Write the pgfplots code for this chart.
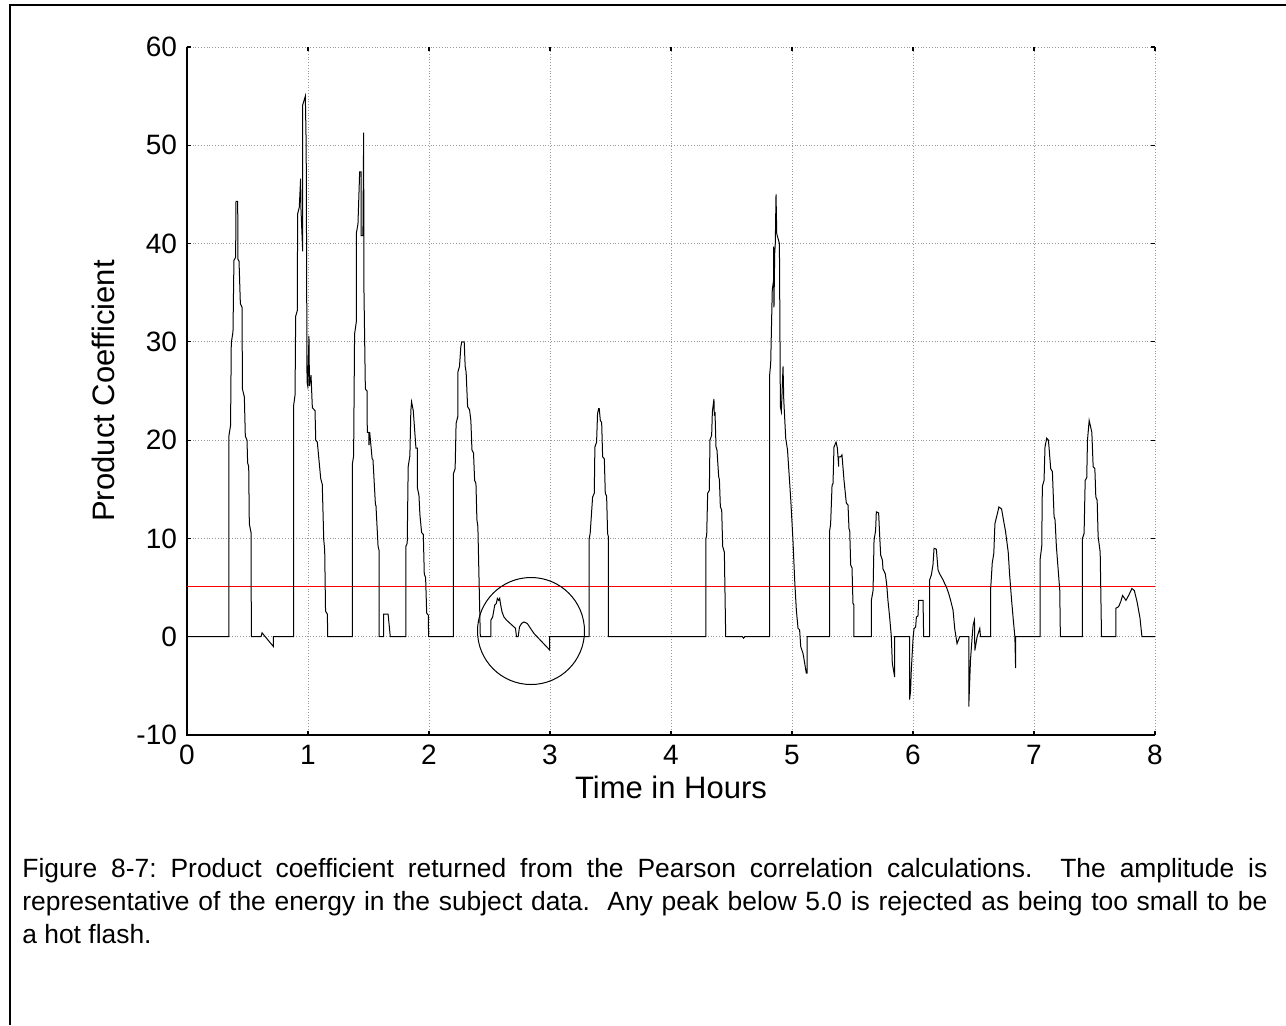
\documentclass[border=0pt]{standalone}
\usepackage{pgfplots}
\pgfplotsset{compat=1.18}
\usepackage{fontspec}
\setmainfont{Liberation Sans}
\begin{document}
\begin{tikzpicture}
\useasboundingbox (0pt,0pt) rectangle (643pt,512.5pt);
\draw[line width=1pt] (5pt,0pt) -- (5pt,510pt) -- (643pt,510pt);
\begin{axis}[
  at={(93.5pt,145pt)}, anchor=south west,
  scale only axis, width=484pt, height=344pt,
  xmin=0, xmax=8, ymin=-10, ymax=60,
  xtick={0,1,...,8}, ytick={-10,0,10,20,30,40,50,60},
  grid=major,
  grid style={densely dotted, gray!80, line width=0.5pt},
  axis line style={draw=none},
  tick align=inside, major tick length=2pt,
  tick style={black, line width=0.6pt},
  /pgf/number format/assume math mode=true,
  tick label style={font=\fontsize{14}{16}\selectfont},
  xticklabel style={yshift=-1.5pt},
  yticklabel style={xshift=-1.5pt},
  label style={font=\fontsize{15.5}{18}\selectfont},
  xlabel={Time in Hours}, ylabel={Product Coefficient},
  xlabel style={at={(axis description cs:0.5,-0.0756)}, anchor=center},
  ylabel style={at={(axis description cs:-0.0868,0.5)}, anchor=center},
  clip=false,
]
\draw[black, line width=0.6pt] (rel axis cs:0,1) -- (rel axis cs:0,0) -- (rel axis cs:1,0);
\addplot[red, line width=0.5pt] coordinates {(0,5.1) (8,5.1)};
\addplot[black, line width=0.5pt] coordinates {
(0,0)(0.346,0)
(0.346,20.4)(0.360,21.5)(0.366,29.9)(0.380,31)(0.388,38.3)(0.402,38.6)(0.405,44.3)(0.419,44.3)(0.421,38.4)(0.430,38.2)(0.441,33.9)(0.455,33.5)(0.458,25.2)(0.474,24.4)(0.482,20.4)(0.496,20)(0.501,17.7)(0.510,17.3)(0.515,11.5)(0.529,10.6)(0.532,0)
(0.612,0)(0.620,0.4)(0.714,-1)(0.714,0)(0.881,0)
(0.881,23.5)(0.893,24.6)(0.898,32.6)(0.912,33.2)(0.914,43)(0.928,43.7)(0.939,46.6)(0.942,43.5)(0.956,39.2)(0.956,54.1)(0.978,55)(0.985,50)(0.992,25.9)(0.998,25.5)(1.008,30.6)(1.012,25.5)(1.025,26.6)(1.036,23.3)(1.058,23)(1.064,20)(1.077,19.8)(1.105,16.1)(1.118,15.5)(1.130,9.9)(1.138,8.8)(1.145,2.6)(1.160,2.3)(1.163,0)
(1.366,0)
(1.366,17.5)(1.377,18.4)(1.385,30.8)(1.399,32)(1.399,41)(1.413,42)(1.427,47.3)(1.440,47.3)(1.440,40.8)(1.454,40.8)(1.460,51.3)(1.462,35.7)(1.474,25.2)(1.488,25.0)(1.490,20.8)(1.504,20.8)(1.504,19.5)(1.510,20.8)(1.530,18.1)(1.537,18.0)(1.557,13.5)(1.562,13.3)(1.579,9.2)(1.587,8.8)(1.587,0)
(1.626,0)(1.626,2.3)(1.662,2.3)(1.680,0)(1.809,0)
(1.809,9.2)(1.820,9.5)(1.828,17.3)(1.842,18.4)(1.850,23)(1.856,23.9)(1.870,23.0)(1.892,19.2)(1.903,19.2)(1.903,15.2)(1.917,14.4)(1.925,12.4)(1.939,10.6)(1.953,10.4)(1.961,6.4)(1.972,6.0)(1.981,2.4)(1.994,2.2)(1.997,0)
(2.202,0)
(2.202,16.6)(2.216,17.1)(2.224,21.7)(2.238,22.4)(2.238,26.9)(2.252,27.5)(2.263,29.5)(2.271,30)(2.291,30)(2.299,27.5)(2.307,26.9)(2.319,23.4)(2.335,23.1)(2.346,22)(2.355,19)(2.368,18.7)(2.377,15.9)(2.388,15.6)(2.396,11.9)(2.404,11.2)(2.424,0)
(2.512,0)
(2.512,1.7)(2.526,2.0)(2.543,3.2)(2.557,3.4)(2.565,3.9)(2.576,3.7)(2.584,3.9)(2.593,3.2)(2.604,2.5)(2.620,2.0)(2.640,1.7)(2.715,0.85)(2.723,0)(2.737,0)(2.748,1.0)(2.765,1.35)(2.784,1.5)(2.812,1.35)(2.839,0.85)(2.867,0.34)(2.997,-1.35)(2.997,0)
(3.324,0)
(3.324,10)(3.332,10.5)(3.352,14.2)(3.366,14.6)(3.371,19.3)(3.385,19.8)(3.393,22.7)(3.402,23.2)(3.407,23.2)(3.416,22)(3.427,21.8)(3.435,18.3)(3.449,18.1)(3.457,14.6)(3.468,14.3)(3.476,10.5)(3.482,10.2)(3.482,0)
(4.289,0)
(4.289,10)(4.295,10.3)(4.303,14.6)(4.317,14.9)(4.322,20)(4.336,20.5)(4.342,22.9)(4.350,23.7)(4.355,24.2)(4.358,22.6)(4.364,22.7)(4.372,19.3)(4.380,19.0)(4.394,16.3)(4.400,16.0)(4.408,13.2)(4.419,12.9)(4.427,9.2)(4.441,8.6)(4.452,0)
(4.59,0)(4.60,-0.15)(4.61,0)
(4.815,0)
(4.815,26.6)(4.824,27.8)(4.837,35.3)(4.848,36.3)(4.848,39.7)(4.851,38.5)(4.851,33.5)(4.857,39)(4.862,40)(4.868,45)(4.874,41)(4.896,40)(4.904,23.4)(4.912,22.9)(4.926,27.5)(4.932,24.1)(4.948,20.2)(4.963,19.0)(4.990,13.9)(5.008,9.8)(5.022,5.8)(5.036,2.7)(5.050,0.85)(5.063,0.7)(5.072,-1.0)(5.091,-1.7)(5.105,-2.7)(5.118,-3.7)(5.124,-3.7)(5.124,0)
(5.311,0)
(5.311,10.8)(5.319,11.4)(5.331,15.4)(5.339,15.6)(5.347,19.3)(5.364,19.8)(5.375,19.2)(5.386,17.3)(5.386,18.3)(5.402,18.3)(5.413,18.5)(5.430,15.9)(5.449,13.6)(5.463,13.4)(5.471,11)(5.477,10.8)(5.485,7.3)(5.496,7.0)(5.504,3.4)(5.512,3.2)(5.512,0)
(5.656,0)
(5.656,3.7)(5.670,4.7)(5.678,9.8)(5.691,10.8)(5.697,12.7)(5.716,12.6)(5.725,10.2)(5.733,8.3)(5.747,7.8)(5.752,6.9)(5.771,6.4)(5.782,5.4)(5.793,3.7)(5.807,2.0)(5.821,0)(5.829,-2.7)(5.843,-3.7)(5.848,-4.1)(5.848,0)
(5.972,0)(5.972,-6.4)(5.980,-5.5)(5.986,-3.4)(6.000,-0.3)(6.008,0.8)(6.022,1.0)(6.028,2.0)(6.041,2.1)(6.047,3.7)(6.083,3.7)(6.088,0)(6.138,0)
(6.138,5.8)(6.152,6.3)(6.165,7.3)(6.174,9.0)(6.193,8.9)(6.207,6.8)(6.220,6.4)(6.248,5.8)(6.262,5.4)(6.275,5.1)(6.295,4.4)(6.311,3.7)(6.331,2.7)(6.345,0.8)(6.364,-0.7)(6.386,0)
(6.461,0)(6.461,-7.1)(6.470,-4.1)(6.475,-2.4)(6.489,0)(6.497,1.2)(6.508,1.7)(6.511,-1.4)(6.530,0)(6.538,0.3)(6.552,0.85)(6.558,0)(6.641,0)
(6.641,4.7)(6.655,7.5)(6.668,8.5)(6.677,11.5)(6.691,12.2)(6.710,13.2)(6.732,13.0)(6.746,12.0)(6.765,10.7)(6.787,8.6)(6.798,6.4)(6.815,3.7)(6.829,1.7)(6.842,0)(6.848,-3.2)(6.848,0)
(7.050,0)
(7.050,7.8)(7.064,9.2)(7.069,15.3)(7.083,15.9)(7.091,19.3)(7.105,20.2)(7.119,20.0)(7.124,19.3)(7.138,17.1)(7.152,16.8)(7.166,12.2)(7.174,11.9)(7.185,9.2)(7.213,4.7)(7.218,0)
(7.400,0)
(7.400,10)(7.414,10.5)(7.423,15.9)(7.436,16.2)(7.442,20)(7.456,22)(7.478,20.8)(7.489,17.3)(7.503,17.1)(7.511,14.2)(7.522,13.9)(7.530,10.2)(7.547,8.6)(7.558,0)
(7.677,0)
(7.677,2.9)(7.699,3.05)(7.718,3.6)(7.732,4.2)(7.760,3.7)(7.782,4.2)(7.809,4.9)(7.829,4.7)(7.851,3.6)(7.876,1.9)(7.892,0)(8,0)
};
\draw[black, line width=0.5pt] (axis cs:2.843,0.58) circle[radius=26.75pt];
\end{axis}
\node[anchor=base west, text width=622.5pt, align=justify, inner sep=0pt,
  font=\fontsize{13.2}{16.5}\selectfont] at (11pt,74pt)
  {\frenchspacing Figure 8-7: Product coefficient returned from the Pearson correlation calculations.\ \ The amplitude is\linebreak representative of the energy in the subject data.\ \ Any peak below 5.0 is rejected as being too small to be\linebreak a hot flash.};
\end{tikzpicture}
\end{document}
